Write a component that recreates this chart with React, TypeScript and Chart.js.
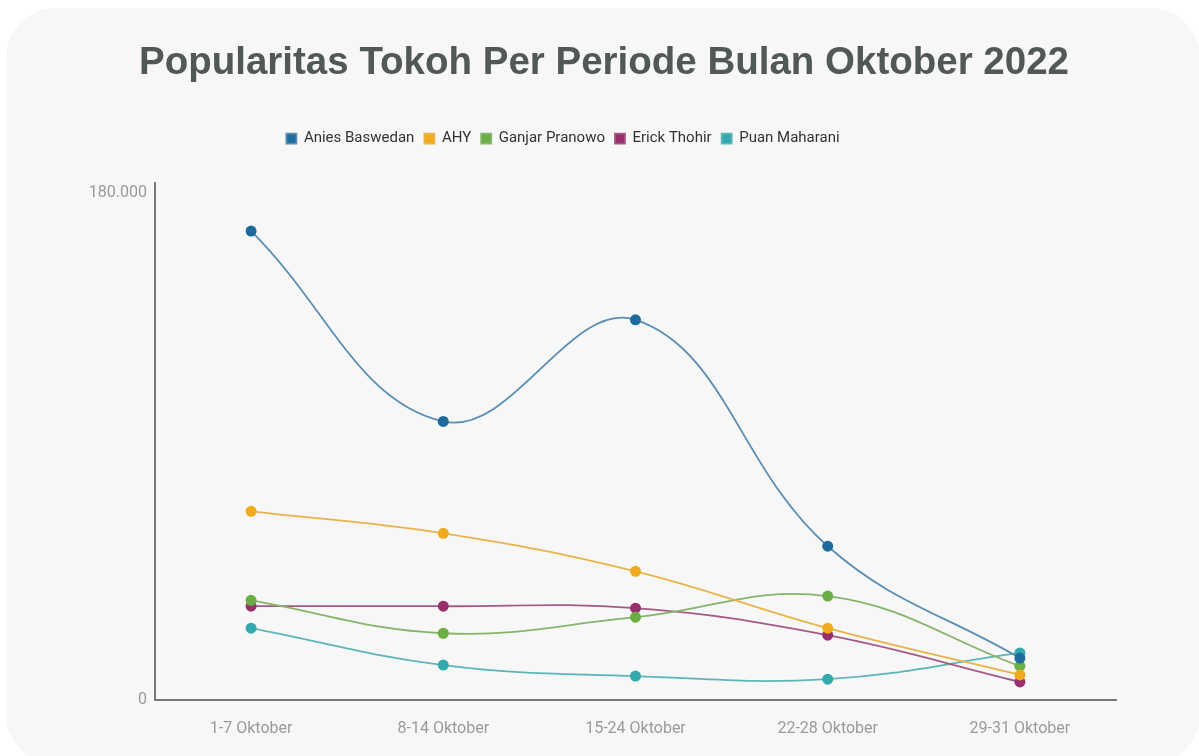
import React, { useEffect, useRef } from "react";
import { Chart, registerables } from "chart.js";

Chart.register(...registerables);

const categories = ["1-7 Oktober", "8-14 Oktober", "15-24 Oktober", "22-28 Oktober", "29-31 Oktober"];
const aniesBaswedan = [166500, 98900, 135000, 54600, 14900];
const ahy = [67000, 59200, 45700, 25500, 8900];
const ganjarPranowo = [35400, 23700, 29400, 36900, 12000];
const erickThohir = [33300, 33300, 32600, 23000, 6400];
const puanMaharani = [25500, 12400, 8500, 7400, 16700];
const yTickValues = [0, 180000];

const seriesNames = ["Anies Baswedan", "AHY", "Ganjar Pranowo", "Erick Thohir", "Puan Maharani"];
const seriesData = [aniesBaswedan, ahy, ganjarPranowo, erickThohir, puanMaharani];
const seriesColors = ["#1d6a9c", "#f0ab1c", "#6aae45", "#9a2f70", "#31a9ad"];
const lineColors = ["#5a8db3", "#e8b44a", "#86b56a", "#a45a85", "#5cb5b8"];

function formatId(v: number): string {
  return String(Math.round(v)).replace(/\B(?=(\d{3})+(?!\d))/g, ".");
}

export default function App() {
  const ref = useRef<HTMLCanvasElement | null>(null);

  useEffect(() => {
    if (!ref.current) return;
    const legendSpacer = {
      id: "legendSpacer",
      beforeInit(chart: any) {
        const orig = chart.legend.fit;
        chart.legend.fit = function () {
          orig.call(this);
          this.height += 27;
        };
      },
      afterLayout(chart: any) {
        if (chart.titleBlock) {
          chart.titleBlock.left += 16;
          chart.titleBlock.right += 16;
        }
        if (chart.legend) {
          chart.legend.left -= 25;
          chart.legend.right -= 25;
        }
      },
    };
    const chart = new Chart(ref.current, {
      type: "line",
      data: {
        labels: categories,
        datasets: seriesNames.map((name, i) => ({
          label: name,
          data: seriesData[i],
          borderColor: lineColors[i],
          backgroundColor: seriesColors[i],
          pointBackgroundColor: seriesColors[i],
          pointBorderColor: seriesColors[i],
          pointBorderWidth: 0,
          pointRadius: 5.5,
          borderWidth: 1.8,
          tension: 0.4,
          fill: false,
        })),
      },
      plugins: [legendSpacer],
      options: {
        responsive: false,
        animation: false,
        layout: { padding: { top: 40, left: 60, right: 83, bottom: 0 } },
        plugins: {
          title: {
            display: true,
            text: "Popularitas Tokoh Per Periode Bulan Oktober 2022",
            color: "#525757",
            font: { family: "'Liberation Sans', Arial, sans-serif", size: 38.5, weight: "bold" },
            padding: { top: 0, bottom: 35 },
          },
          legend: {
            display: true,
            labels: {
              boxWidth: 10,
              boxHeight: 10,
              padding: 10,
              color: "#333333",
              font: { family: "Roboto, sans-serif", size: 15 },
            },
          },
          tooltip: { enabled: false },
        },
        scales: {
          x: {
            offset: true,
            grid: { display: false, drawTicks: false },
            border: { display: true, color: "#777777", width: 2 },
            afterFit: (scale: any) => {
              scale.height = 56;
            },
            ticks: {
              color: "#9a9a9a",
              padding: 19,
              font: { family: "Roboto, sans-serif", size: 16 },
              maxRotation: 0,
            },
          },
          y: {
            min: 0,
            max: 183500,
            grid: { display: false, drawTicks: false },
            border: { display: true, color: "#777777", width: 2 },
            afterBuildTicks: (scale: any) => {
              scale.ticks = yTickValues.map((v) => ({ value: v }));
            },
            afterFit: (scale: any) => {
              scale.width = 95;
            },
            ticks: {
              color: "#9a9a9a",
              padding: 8,
              font: { family: "Roboto, sans-serif", size: 16 },
              callback: (v: any) => formatId(Number(v)),
            },
          },
        },
      },
    });
    return () => chart.destroy();
  }, []);

  return (
    <div style={{ position: "fixed", left: 0, top: 0, width: 1199, height: 756, background: "#ffffff", overflow: "hidden" }}>
      <div
        style={{
          position: "absolute",
          left: 6,
          top: 8,
          width: 1194,
          height: 756,
          borderRadius: 50,
          background: "#f7f7f7",
        }}
      />
      <canvas ref={ref} width={1199} height={756} style={{ position: "absolute", left: 0, top: 0 }} />
    </div>
  );
}
